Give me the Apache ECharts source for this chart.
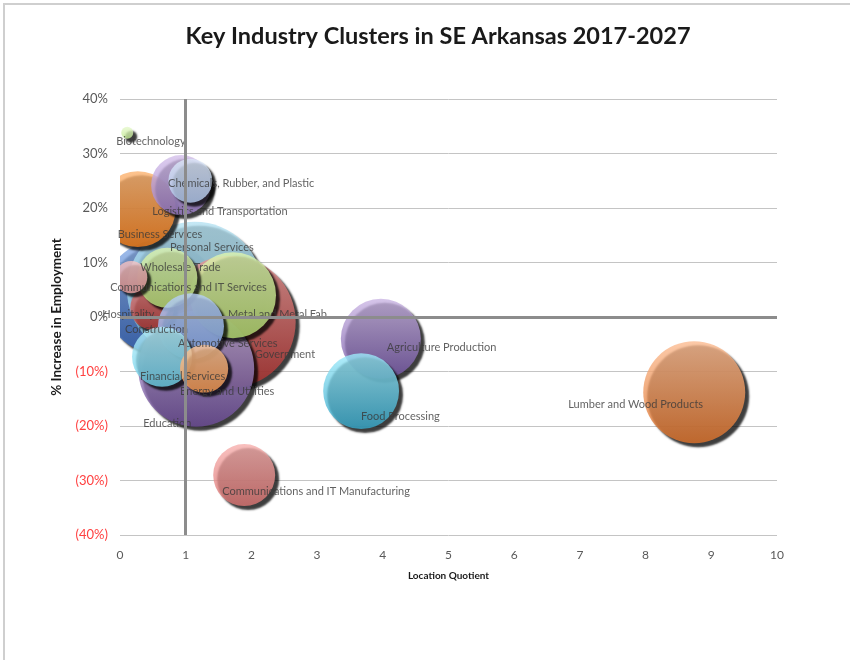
<!DOCTYPE html>
<html>
<head>
<meta charset="utf-8">
<script src="https://cdn.jsdelivr.net/npm/echarts@6/dist/echarts.min.js"></script>
<style>
  html, body { margin: 0; padding: 0; background: #ffffff; }
  #chart { width: 850px; height: 660px; }
</style>
</head>
<body>
<div id="chart"></div>
<script>
// Industry clusters, listed in drawing order (back to front)
const clusters = [
  'Construction', 'Personal Services', 'Government', 'Education',
  'Metal and Metal Fab', 'Hospitality', 'Wholesale Trade',
  'Communications and IT Services', 'Automotive Services',
  'Financial Services', 'Energy and Utilities', 'Business Services',
  'Chemicals, Rubber, and Plastic', 'Logistics and Transportation',
  'Biotechnology', 'Agriculture Production', 'Food Processing',
  'Lumber and Wood Products', 'Communications and IT Manufacturing'
];
// Location quotient (x)
const locationQuotient = [
  0.61, 1.14, 1.67, 1.16,
  1.72, 0.49, 0.72,
  0.17, 1.08,
  0.64, 1.28, 0.27,
  0.93, 1.07,
  0.11, 3.97, 3.67,
  8.74, 1.89
];
// Projected % increase in employment 2017-2027 (y)
const pctIncrease = [
  3.7, 5.0, -0.9, -9.5,
  4.0, 1.7, 7.2,
  7.3, -1.7,
  -7.3, -9.5, 19.8,
  24.2, 25.0,
  33.8, -4.0, -13.6,
  -13.8, -29.0
];
// Bubble size (employment weight)
const bubbleSize = [
  3250, 4620, 4350, 3360,
  1850, 480, 900,
  260, 1090,
  900, 580, 1440,
  900, 480,
  36, 1600, 1440,
  2600, 960
];
// Fill gradients (top, bottom)
const fills = [
  ['#8aaee6', '#3566bd'], ['#b6e2f2', '#86c8e2'], ['#e89896', '#b0302e'], ['#cbb8e2', '#6c4b98'],
  ['#def5b0', '#b7de74'], ['#de7c7a', '#b83c3a'], ['#ddf4b2', '#bde27c'],
  ['#f6c4c4', '#eca0a0'], ['#b8d0f8', '#86aaee'],
  ['#b8f0fb', '#6ed0ea'], ['#fcc495', '#f79a52'], ['#fcb472', '#f47e1a'],
  ['#d4c0ea', '#9f80cc'], ['#dde9f9', '#b6cdf1'],
  ['#e6f8cc', '#c2ea92'], ['#cbb6e4', '#7456a6'], ['#9eeafa', '#35a8ca'],
  ['#fcbc92', '#de722a'], ['#f7b0ae', '#dc7472']
];
// Label placement relative to bubble centre [dx, dy]
const labelOffset = [
  [-35, 33], [-25, -42], [25, 33], [-53, 55],
  [-5, 19], [-50, 7], [-27, -10],
  [-21, 10], [-13, 17],
  [-22, 20], [-24, 23], [-20, 25],
  [-13, -2], [-38, 31],
  [-11, 9], [6, 9], [0, 25],
  [-126, 12], [-22, 16]
];

const yTicks = { min: -40, max: 40, interval: 10 };
const xTicks = { min: 0, max: 10, interval: 1 };

const FONT = 'Lato, "Open Sans", sans-serif';
const GRID = { left: 120, right: 73, top: 99, bottom: 125 };

const bubbleData = clusters.map((name, i) => ({
  name: name,
  value: [locationQuotient[i], pctIncrease[i], bubbleSize[i]],
  itemStyle: {
    color: {
      type: 'linear', x: 0, y: 0, x2: 0, y2: 1,
      colorStops: [{ offset: 0, color: fills[i][0] }, { offset: 1, color: fills[i][1] }]
    }
  }
}));

const labelData = clusters.map((name, i) => ({
  name: name,
  value: [locationQuotient[i], pctIncrease[i], bubbleSize[i]],
  label: { offset: labelOffset[i] }
}));

const pctLabel = v => v < 0 ? '(' + (-v) + '%)' : v + '%';

const chart = echarts.init(document.getElementById('chart'), null, { renderer: 'canvas' });

chart.setOption({
  animation: false,
  backgroundColor: '#ffffff',
  title: {
    text: 'Key Industry Clusters in SE Arkansas 2017-2027',
    left: 433, top: 19, textAlign: 'center', z: 20,
    textStyle: { fontFamily: FONT, fontSize: 23.5, fontWeight: 'bold', color: '#1a1a1a' }
  },
  graphic: [
    {
      // chart frame
      type: 'rect', shape: { x: 4, y: 4, width: 900, height: 700 },
      style: { fill: 'none', stroke: '#cfcfcf', lineWidth: 2 }, silent: true, z: -1
    },
    {
      // mask bubble parts that fall left of the plot area
      type: 'rect', shape: { x: 6, y: 60, width: GRID.left - 6, height: 482 },
      style: { fill: '#ffffff' }, silent: true, z: 2.5
    }
  ],
  grid: GRID,
  xAxis: {
    type: 'value', min: xTicks.min, max: xTicks.max, interval: xTicks.interval,
    name: 'Location Quotient', nameLocation: 'middle', nameGap: 36,
    nameTextStyle: { fontFamily: FONT, fontSize: 10, fontWeight: 'bold', color: '#1a1a1a' },
    axisLine: { show: false }, axisTick: { show: false },
    splitLine: { show: false },
    axisLabel: { fontFamily: FONT, fontSize: 12, color: '#595959', margin: 14 }
  },
  yAxis: [
    {
      // gridlines, behind the bubbles
      type: 'value', min: yTicks.min, max: yTicks.max, interval: yTicks.interval,
      axisLine: { show: false }, axisTick: { show: false }, axisLabel: { show: false },
      splitLine: { lineStyle: { color: '#c4c4c4', width: 1 } }
    },
    {
      // tick labels and title, above the left mask
      type: 'value', position: 'left', offset: 0, z: 10,
      min: yTicks.min, max: yTicks.max, interval: yTicks.interval,
      name: '% Increase in Employment', nameLocation: 'middle', nameGap: 56,
      nameTextStyle: { fontFamily: FONT, fontSize: 13.5, fontWeight: 'bold', color: '#1a1a1a' },
      axisLine: { show: false }, axisTick: { show: false }, splitLine: { show: false },
      axisLabel: {
        fontFamily: FONT, fontSize: 13, margin: 12,
        formatter: pctLabel,
        color: v => (v < 0 ? '#ff4040' : '#595959')
      }
    }
  ],
  series: [
    {
      // reference lines at LQ = 1 and 0% growth
      type: 'scatter', data: [], z: 1, silent: true,
      markLine: {
        silent: true, symbol: 'none', label: { show: false },
        lineStyle: { color: '#8c8c8c', width: 3, type: 'solid' },
        data: [{ xAxis: 1 }, { yAxis: 0 }]
      }
    },
    {
      type: 'scatter', z: 2, silent: true,
      symbolSize: val => 2 * Math.sqrt(val[2]),
      itemStyle: {
        shadowColor: 'rgba(0,0,0,0.95)', shadowBlur: 2, shadowOffsetX: 4, shadowOffsetY: 4
      },
      data: bubbleData
    },
    {
      type: 'scatter', z: 3, silent: true,
      symbolSize: 1, itemStyle: { color: 'rgba(0,0,0,0)' },
      label: {
        show: true, position: 'inside', align: 'left', verticalAlign: 'middle',
        formatter: p => p.name,
        fontFamily: FONT, fontSize: 11, color: '#3a3a3a'
      },
      data: labelData
    }
  ]
});
</script>
</body>
</html>
